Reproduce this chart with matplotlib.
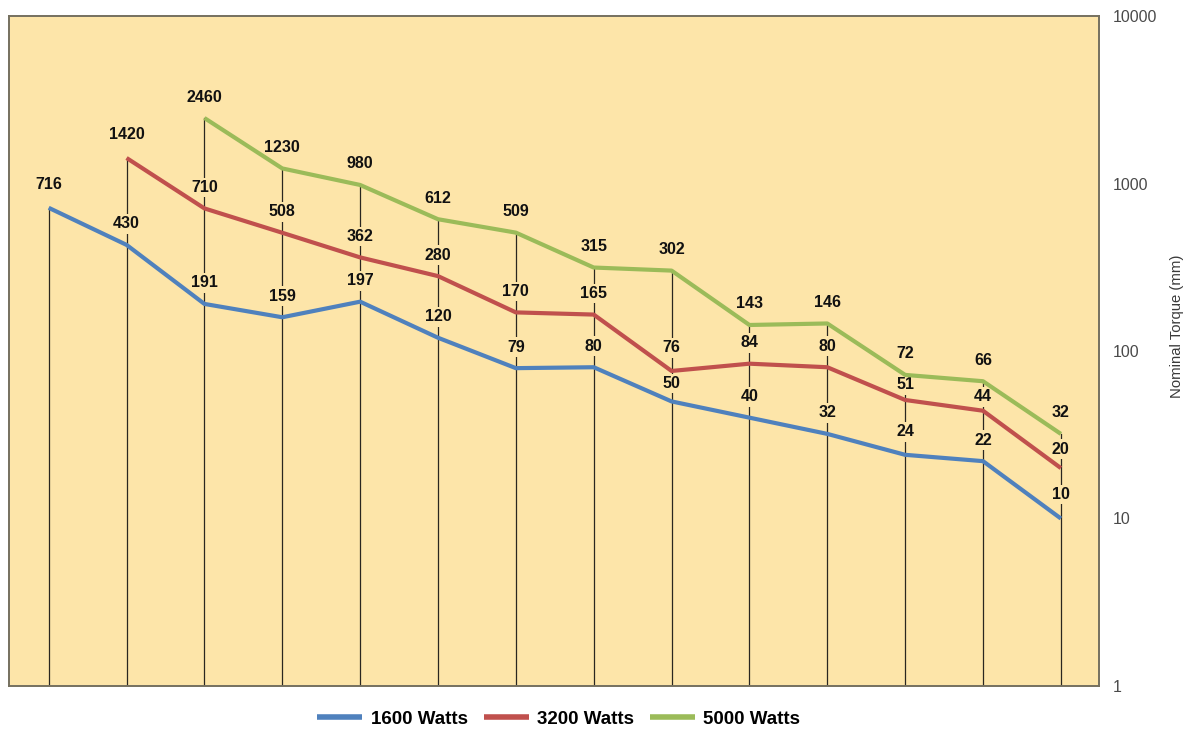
import matplotlib
matplotlib.use("Agg")
import matplotlib.pyplot as plt

# Nominal torque per step for each motor power
steps = list(range(14))
watts_1600 = [716, 430, 191, 159, 197, 120, 79, 80, 50, 40, 32, 24, 22, 10]
watts_3200 = [None, 1420, 710, 508, 362, 280, 170, 165, 76, 84, 80, 51, 44, 20]
watts_5000 = [None, None, 2460, 1230, 980, 612, 509, 315, 302, 143, 146, 72, 66, 32]
series_names = ["1600 Watts", "3200 Watts", "5000 Watts"]
y_ticks = [1, 10, 100, 1000, 10000]

bg = "#FDE5A9"
colors = ["#4F81BD", "#C0504D", "#9BBB59"]
plt.rcParams["font.family"] = ["Liberation Sans", "DejaVu Sans"]

# vertical gap (pixels) between a point and its value label; a few are
# nudged down so they sit clear of the line above
default_gap = 21
gap_overrides = {(0, 8): 18, (1, 11): 15, (1, 12): 14, (1, 13): 19,
                 (0, 0): 23, (1, 1): 23, (1, 8): 23, (0, 13): 24, (0, 11): 23}

fig = plt.figure(figsize=(11.89, 7.29), dpi=100)
ax = fig.add_axes([9 / 1189, 1 - 686 / 729, (1099 - 9) / 1189, (686 - 16) / 729])
ax.set_facecolor(bg)
ax.set_yscale("log")
ax.set_ylim(1, 10000)
ax.set_xlim(-0.51, 13.49)

all_series = [watts_1600, watts_3200, watts_5000]

# drop lines from the highest value at each step down to the axis floor
for i in steps:
    top = max(s[i] for s in all_series if s[i] is not None)
    ax.plot([i, i], [1, top], color="#2a2620", lw=0.9, zorder=1)

handles = []
for k, (vals, col, name) in enumerate(zip(all_series, colors, series_names)):
    xs = [i for i, v in zip(steps, vals) if v is not None]
    ys = [v for v in vals if v is not None]
    h, = ax.plot(xs, ys, color=col, lw=3.0, solid_capstyle="butt", zorder=3, label=name)
    handles.append(h)
    for x, y in zip(xs, ys):
        gap = gap_overrides.get((k, x), default_gap)
        ax.annotate(str(y), (x, y), xytext=(0, gap), textcoords="offset pixels",
                    ha="center", va="center", fontsize=11.5, fontweight="bold",
                    color="#111111", zorder=2,
                    bbox=dict(boxstyle="square,pad=0.15", fc=bg, ec="none"))

ax.yaxis.tick_right()
ax.set_yticks(y_ticks)
ax.set_yticklabels([str(t) for t in y_ticks])
ax.yaxis.set_minor_locator(matplotlib.ticker.NullLocator())
ax.tick_params(axis="y", length=0, pad=10, labelsize=11.5, labelcolor="#4a4a4a")
ax.set_xticks([])
fig.text(1177 / 1189, 1 - 326 / 729, "Nominal Torque (mm)", rotation=90,
         ha="center", va="center", fontsize=10.7, color="#3a3a3a")

for side in ["left", "right", "top", "bottom"]:
    ax.spines[side].set_color("#75705f")
    ax.spines[side].set_linewidth(1.4)

leg = fig.legend(handles=handles, loc="center", bbox_to_anchor=(0.47, 1 - 719 / 729),
                 ncol=3, frameon=False, handlelength=2.4, handletextpad=0.45,
                 columnspacing=0.85, prop={"weight": "bold", "size": 13.5})
for line in leg.get_lines():
    line.set_linewidth(4)

fig.savefig("out.png", dpi=100, facecolor="white")
